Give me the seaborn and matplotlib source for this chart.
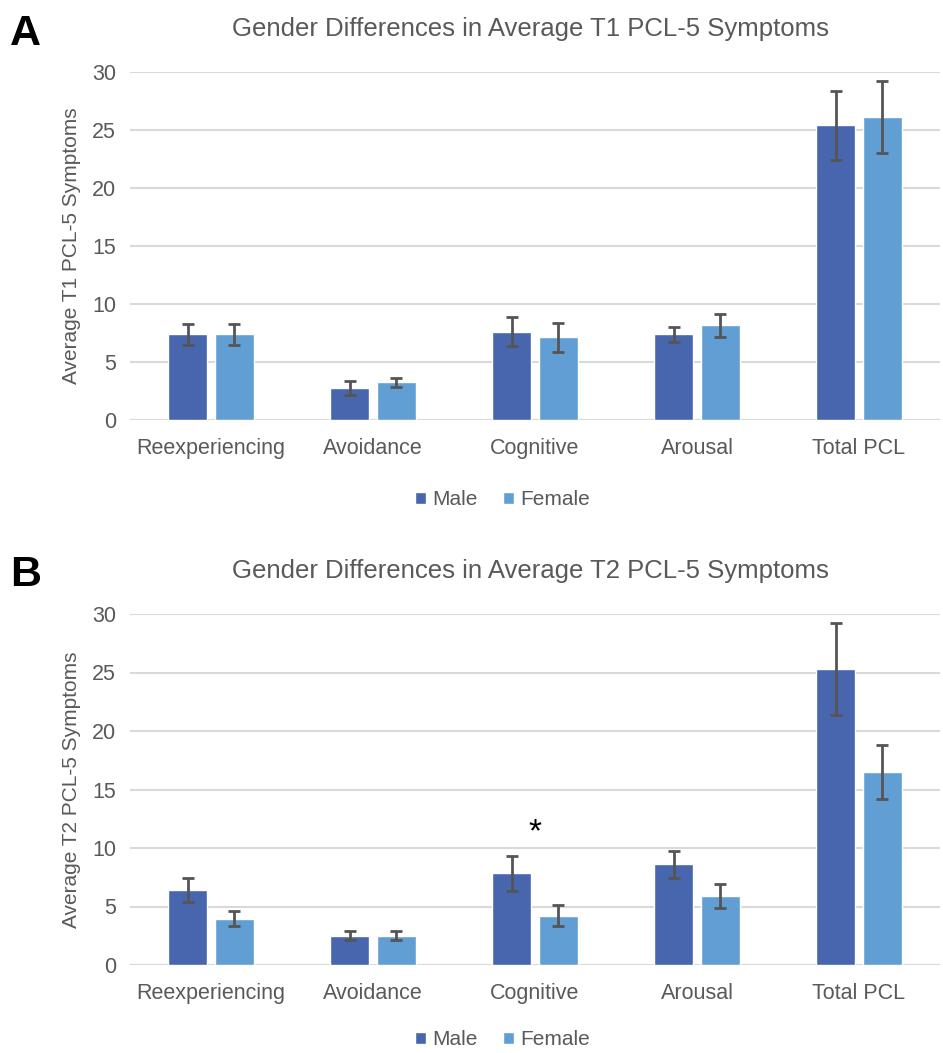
import numpy as np
import pandas as pd
import seaborn as sns
import matplotlib.pyplot as plt
from matplotlib.patches import Patch

# ==================== data ====================
categories = ["Reexperiencing", "Avoidance", "Cognitive", "Arousal", "Total PCL"]
genders = ["Male", "Female"]

t1_male = [7.4, 2.75, 7.6, 7.4, 25.4]
t1_female = [7.4, 3.25, 7.15, 8.15, 26.1]
t1_male_err = [0.9, 0.6, 1.25, 0.65, 3.0]
t1_female_err = [0.9, 0.4, 1.25, 1.0, 3.1]

t2_male = [6.4, 2.5, 7.85, 8.6, 25.3]
t2_female = [3.95, 2.5, 4.2, 5.9, 16.5]
t2_male_err = [1.0, 0.4, 1.5, 1.15, 3.9]
t2_female_err = [0.65, 0.4, 0.9, 1.0, 2.3]

yticks = [0, 5, 10, 15, 20, 25, 30]

male_color = "#4866AD"
female_color = "#609ED3"
text_gray = "#595959"
grid_gray = "#D9D9D9"

sns.set_theme(style="white")
plt.rcParams['font.family'] = ['Liberation Sans', 'DejaVu Sans']


def make_df(male, female):
    return pd.DataFrame({
        "Category": categories * 2,
        "Gender": ["Male"] * len(categories) + ["Female"] * len(categories),
        "Value": list(male) + list(female),
    })


def draw_panel(ax, df, errs, title, ylabel, letter, star=None, leg_y=-0.15):
    sns.barplot(data=df, x="Category", y="Value", hue="Gender",
                order=categories, hue_order=genders,
                palette=[male_color, female_color],
                width=0.58, gap=0.16, errorbar=None,
                saturation=1, ax=ax, legend=False, zorder=3)

    # error bars centred on the drawn bars
    for container, err in zip(ax.containers, errs):
        xs = [p.get_x() + p.get_width() / 2 for p in container]
        ys = [p.get_height() for p in container]
        ax.errorbar(xs, ys, yerr=err, fmt="none", ecolor="#555555",
                    elinewidth=2, capsize=4, capthick=2, zorder=4)

    ax.set_xlim(-0.5, 4.5)
    ax.set_ylim(0, 30)
    ax.set_yticks(yticks)
    ax.yaxis.grid(True, color=grid_gray, linewidth=1.5, zorder=0)
    ax.set_axisbelow(True)
    for s in ["top", "right", "left", "bottom"]:
        ax.spines[s].set_visible(False)
    ax.axhline(0, color=grid_gray, linewidth=1.5, zorder=1)
    ax.tick_params(axis="both", length=0, labelsize=15.5, colors=text_gray)
    ax.tick_params(axis="x", pad=13)
    ax.tick_params(axis="y", pad=10)
    ax.set_xlabel("")
    ax.set_ylabel(ylabel, fontsize=15, color=text_gray, labelpad=8)
    ax.set_title(title, fontsize=18.5, color=text_gray, pad=26, x=0.494)

    handles = [Patch(facecolor=male_color, label="Male"),
               Patch(facecolor=female_color, label="Female")]
    ax.legend(handles=handles, loc="upper center", bbox_to_anchor=(0.46, leg_y),
              ncol=2, frameon=False, fontsize=15, labelcolor=text_gray,
              handlelength=0.55, handleheight=0.55, handletextpad=0.3,
              columnspacing=1.2, borderpad=0.2)

    ax.text(-0.148, 1.11, letter, transform=ax.transAxes, fontsize=31,
            fontweight="bold", color="black", ha="left", va="center")

    if star is not None:
        ax.text(star[0], star[1], "*", fontsize=24, color="black",
                ha="center", va="center")


fig = plt.figure(figsize=(9.43, 10.53), dpi=100)
ax_a = fig.add_axes([130 / 943, 633 / 1053, 810 / 943, 348 / 1053])
ax_b = fig.add_axes([130 / 943, 88 / 1053, 810 / 943, 351 / 1053])

draw_panel(ax_a, make_df(t1_male, t1_female), [t1_male_err, t1_female_err],
           "Gender Differences in Average T1 PCL-5 Symptoms",
           "Average T1 PCL-5 Symptoms", "A", leg_y=-0.16)
draw_panel(ax_b, make_df(t2_male, t2_female), [t2_male_err, t2_female_err],
           "Gender Differences in Average T2 PCL-5 Symptoms",
           "Average T2 PCL-5 Symptoms", "B", star=(2, 11.3), leg_y=-0.145)

fig.savefig("out.png", dpi=100)
